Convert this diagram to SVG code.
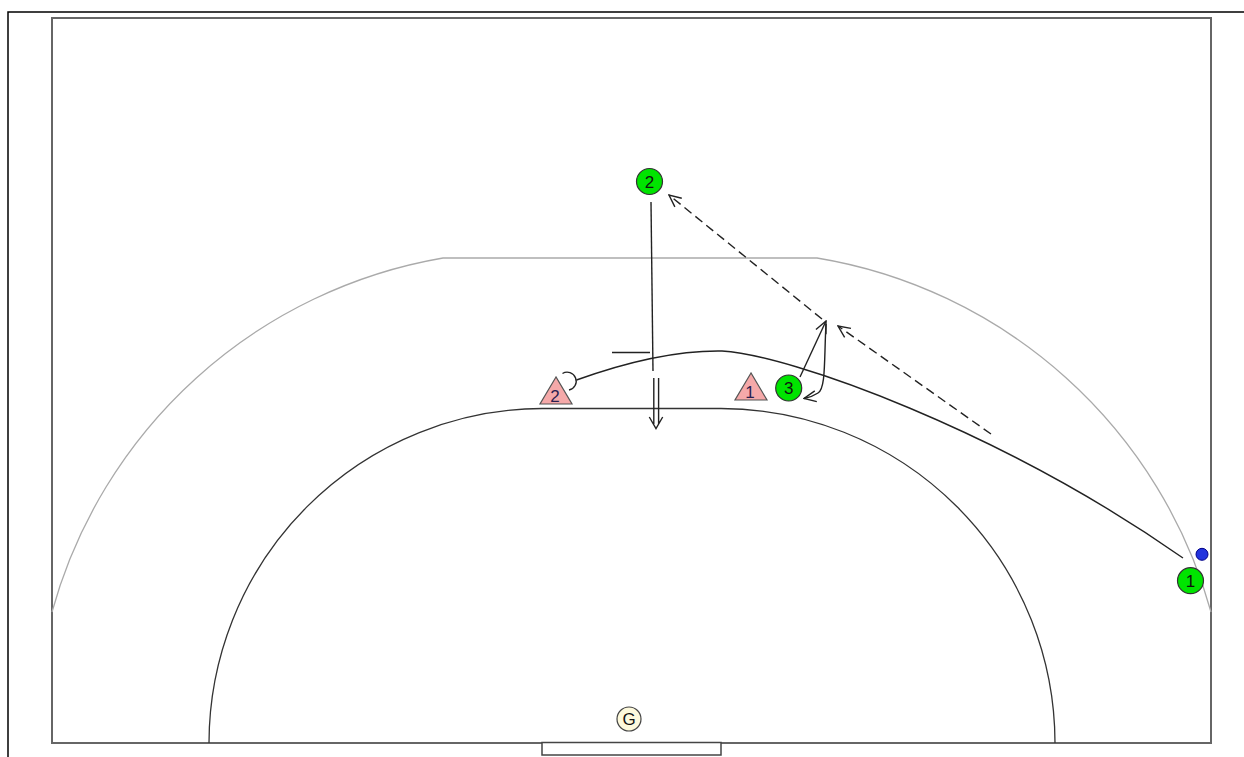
<svg xmlns="http://www.w3.org/2000/svg" width="1244" height="757" viewBox="0 0 1244 757">
<style>
.frame{fill:none;stroke:#000;stroke-width:1.5}
.court{fill:none;stroke:#666;stroke-width:2}
.six{fill:none;stroke:#333;stroke-width:1.3}
.nine{fill:none;stroke:#aaa;stroke-width:1.3}
.att{fill:#00e400;stroke:#333;stroke-width:1.2}
.def{fill:#f5a9a9;stroke:#555;stroke-width:1.2}
.lbl{font-family:"Liberation Sans",Arial,sans-serif;font-size:17px;text-anchor:middle;fill:#111}
.dl{font-family:"Liberation Sans",Arial,sans-serif;font-size:17px;text-anchor:middle;fill:#2a2050}
.mv{fill:none;stroke:#222;stroke-width:1.4}
.pass{fill:none;stroke:#222;stroke-width:1.4;stroke-dasharray:9,5}
</style>
<defs>
<marker id="open" viewBox="0 0 14 14" refX="13" refY="7" markerWidth="14" markerHeight="14" markerUnits="userSpaceOnUse" orient="auto">
<path d="M1,1.5 L13,7 L1,12.5" fill="none" stroke="#222" stroke-width="1.4"/>
</marker>
</defs>
<rect x="0" y="0" width="1244" height="757" fill="#fff"/>
<g id="field">
<path class="frame" d="M8,757 L8,12 L1244,12"/>
<rect class="court" x="52" y="18" width="1159" height="725"/>
<path class="nine" d="M52,612 A492,492 0 0 1 443,258 L817,258 A492,492 0 0 1 1211,612"/>
<path class="six" d="M209,743 A335,335 0 0 1 542,408.5 L721,408.5 A335,335 0 0 1 1055,743"/>
<rect x="542" y="742.5" width="179" height="12.5" fill="#fff" stroke="#444" stroke-width="1.5"/>
</g>
<g id="connectors">
<path class="mv" d="M576.5,380 Q660,350 722,351 C790,355 1000,430 1183,558"/>
<path class="mv" d="M562.5,373.5 A9,9 0 1 1 569,390"/>
<path class="mv" d="M651,202 L653,371"/>
<path class="mv" d="M612,352.5 L650,352.5"/>
<path class="mv" d="M653.8,378 L653.8,424 M658.6,378 L658.6,424 M649.3,417 L656,428.5 L662.7,417"/>
<path class="mv" d="M800,377 L826,321" marker-end="url(#open)"/>
<path class="mv" d="M826,324 C824,360 826,388 818,393 Q812,397 804,398.5" marker-end="url(#open)"/>
<path class="pass" d="M991,434 L838,326" marker-end="url(#open)"/>
<path class="pass" d="M822,319 L669,195" marker-end="url(#open)"/>
</g>
<g id="attacker-2"><circle class="att" cx="649.5" cy="181.5" r="13"/><text class="lbl" x="649.5" y="187.5">2</text></g>
<g id="attacker-3"><circle class="att" cx="788.7" cy="388" r="13"/><text class="lbl" x="788.7" y="394">3</text></g>
<g id="attacker-1"><circle class="att" cx="1190.5" cy="580.7" r="13"/><text class="lbl" x="1190.5" y="586.7">1</text></g>
<g id="ball"><circle cx="1202" cy="554.3" r="6" fill="#2233dd" stroke="#000088" stroke-width="1"/></g>
<g id="defender-2"><polygon class="def" points="556,377 540,404 572,404"/><text class="dl" x="555" y="402">2</text></g>
<g id="defender-1"><polygon class="def" points="751,373 735,400 767,400"/><text class="dl" x="750" y="398">1</text></g>
<g id="goalkeeper"><circle cx="629" cy="719" r="12" fill="#fdf9dc" stroke="#444" stroke-width="1.2"/><text class="lbl" x="629" y="725" fill="#223">G</text></g>
</svg>
